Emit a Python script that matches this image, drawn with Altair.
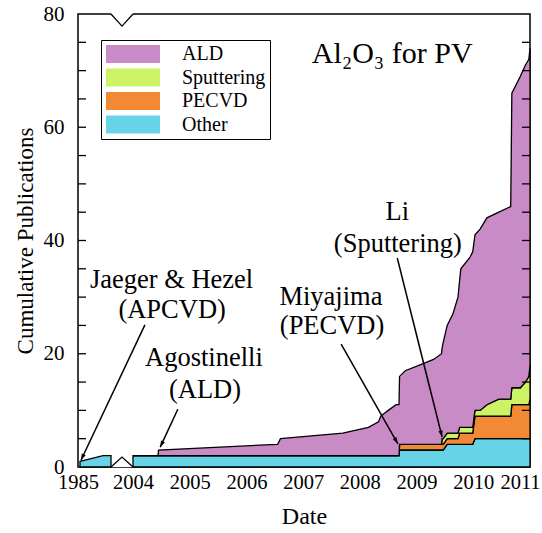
import math
import altair as alt
import pandas as pd

# Deposition methods, stacking rank (0 = bottom) and fill colours
METHODS = ["ALD", "Sputtering", "PECVD", "Other"]
COLORS = ["#C98BC6", "#CCF266", "#F28A35", "#66D3E6"]
STACK_RANK = {"Other": 0, "PECVD": 1, "Sputtering": 2, "ALD": 3}

# Early publications (before the axis break)
early_dates = [1985.06, 1985.76, 1986.0]
early_other = [1, 2, 2]

# Cumulative publication counts, 2004 onwards
dates = [2004.00, 2004.44, 2004.45, 2006.55, 2006.60, 2007.70, 2008.15, 2008.33,
         2008.37, 2008.50, 2008.64, 2008.69, 2008.70, 2008.80, 2009.05, 2009.30,
         2009.44, 2009.45, 2009.47, 2009.54, 2009.64, 2009.73, 2009.76, 2009.78,
         2009.94, 2009.99, 2010.03, 2010.12, 2010.24, 2010.45, 2010.66, 2010.68,
         2010.83, 2010.92, 2010.98, 2011.00]
other = [2, 2, 2, 2, 2, 2, 2, 2,
         2, 2, 2, 2, 3, 3, 3, 3,
         3, 3, 3, 4, 4, 4, 4, 4,
         4, 4, 5, 5, 5, 5, 5, 5,
         5, 5, 5, 5]
pecvd = [0, 0, 0, 0, 0, 0, 0, 0,
         0, 0, 0, 0, 1, 1, 1, 1,
         1, 1, 1, 1, 1, 1, 2, 2,
         2, 2, 4, 4, 4, 4, 4, 6,
         6, 6, 6, 7]
sputtering = [0, 0, 0, 0, 0, 0, 0, 0,
              0, 0, 0, 0, 0, 0, 0, 0,
              0, 1, 1, 1, 1, 1, 1, 1,
              1, 1, 1, 1, 2, 3, 3, 3,
              3, 4, 5, 6]
ald = [0, 0, 1, 2, 3, 4, 5, 6,
       7, 8, 9, 9, 12, 13, 14, 15,
       16, 16, 17, 19, 21, 24, 26, 28,
       30, 31, 31, 32, 33, 33, 34, 52,
       55, 56, 56, 56]

x_ticks = [1985, 2004, 2005, 2006, 2007, 2008, 2009, 2010, 2011]
y_labels = [0, 20, 40, 60, 80]
y_minor = list(range(5, 80, 5))

# Annotation text lines
note_text = ["Jaeger & Hezel", "(APCVD)", "Agostinelli", "(ALD)",
             "Miyajima", "(PECVD)", "Li", "(Sputtering)"]
note_x = [2004.68, 2004.69, 2005.25, 2005.27, 2007.49, 2007.51, 2008.66, 2008.67]
note_y = [33.0, 27.7, 19.3, 13.6, 30.0, 24.9, 45.0, 39.4]

# Arrows from each annotation to the first paper of that kind
arrow_x = [2004.21, 2004.79, 2007.67, 2008.66]
arrow_y = [25.1, 10.2, 21.7, 36.9]
arrow_x2 = [1985.09, 2004.48, 2008.67, 2009.45]
arrow_y2 = [1.2, 3.5, 4.1, 5.3]

# Broken time axis: 1985-1986 squeezed at the left, 2004-2011 on the rest
W, H = 452, 453
X_DOMAIN = [1985, 1986, 2004, 2011]
X_RANGE = [0, 33, 55, W]
Y_MAX = 80
BREAK_AT = 1995
FONT = "Liberation Serif"


def px_x(year):
    for (d0, d1), (r0, r1) in zip(zip(X_DOMAIN, X_DOMAIN[1:]), zip(X_RANGE, X_RANGE[1:])):
        if year <= d1:
            return r0 + (year - d0) / (d1 - d0) * (r1 - r0)
    return X_RANGE[-1]


def px_y(v):
    return H - v / Y_MAX * H


x_scale = alt.Scale(domain=X_DOMAIN, range=X_RANGE, nice=False, zero=False)
y_scale = alt.Scale(domain=[0, Y_MAX], nice=False, zero=False)

x_axis = alt.Axis(values=x_ticks, format="d", ticks=False, domain=False, grid=False,
                  labelOverlap=False, labelFlush=False,
                  labelFont=FONT, labelFontSize=20.5, labelColor="black", labelPadding=5,
                  labelOffset={"condition": {"test": "datum.value == 2011", "value": -10}, "value": 0},
                  title="Date", titleFont=FONT, titleFontSize=24, titleFontWeight="normal",
                  titleColor="black", titlePadding=12)
y_axis = alt.Axis(values=y_labels, ticks=False, domain=False, grid=False,
                  labelOverlap=False, labelFlush=False,
                  labelFont=FONT, labelFontSize=21, labelColor="black", labelPadding=14,
                  title="Cumulative Publications", titleFont=FONT, titleFontSize=23,
                  titleFontWeight="normal", titleColor="black", titlePadding=6)

X = alt.X("date:Q", scale=x_scale, axis=x_axis)
Y = alt.Y("value:Q", scale=y_scale, axis=y_axis)

# Long-form tables for the stacked areas
series = {"Other": other, "PECVD": pecvd, "Sputtering": sputtering, "ALD": ald}
main_rows = []
for m, vals in series.items():
    for d, v in zip(dates, vals):
        main_rows.append({"date": d, "value": v, "method": m, "rank": STACK_RANK[m]})
main_df = pd.DataFrame(main_rows)
early_df = pd.DataFrame({"date": early_dates, "value": early_other,
                         "method": "Other", "rank": STACK_RANK["Other"]})

# Legend swatches: 54 x 18 px rectangles (9 px per path unit)
legend = alt.Legend(orient="none", legendX=23, legendY=26, title=None,
                    symbolType="M-3,-1L3,-1L3,1L-3,1Z", symbolSize=324,
                    symbolOffset=18, symbolStrokeWidth=0, symbolOpacity=1,
                    labelFont=FONT, labelFontSize=20, labelColor="black", labelOffset=39,
                    labelBaseline="middle", rowPadding=3.5, padding=4,
                    strokeColor="black", fillColor="white", labelLimit=0)
color = alt.Color("method:N", scale=alt.Scale(domain=METHODS, range=COLORS), legend=legend)


def area_layer(df):
    return alt.Chart(df).mark_area(interpolate="linear", stroke="black", strokeWidth=1.3,
                                   opacity=1).encode(
        x=X,
        y=alt.Y("value:Q", scale=y_scale, axis=y_axis, stack="zero"),
        color=color,
        order=alt.Order("rank:Q"),
    )


areas_early = area_layer(early_df)
areas_main = area_layer(main_df)

# Inward tick marks on both vertical edges
tick_df = pd.DataFrame({"value": y_minor})
left_ticks = alt.Chart(tick_df).mark_rule(color="black", strokeWidth=1.3).encode(
    x=alt.value(0), x2=alt.value(8), y=Y)
right_ticks = alt.Chart(tick_df).mark_rule(color="black", strokeWidth=1.3).encode(
    x=alt.value(W - 8), x2=alt.value(W), y=Y)

# Axis-break symbols
brk_bottom = pd.DataFrame({"date": [BREAK_AT], "value": [0]})
brk_top = pd.DataFrame({"date": [BREAK_AT], "value": [Y_MAX]})
break_low = alt.Chart(brk_bottom).mark_point(
    shape="M-1,0L0,-0.9L1,0", size=484, filled=True, fill="white", stroke="black",
    strokeWidth=1.3, opacity=1).encode(x=X, y=Y)
break_high_fill = alt.Chart(brk_top).mark_point(
    shape="M-1,-0.15L-1,0L0,1.1L1,0L1,-0.15Z", size=484, filled=True, fill="white",
    strokeWidth=0, opacity=1).encode(x=X, y=Y)
break_high = alt.Chart(brk_top).mark_point(
    shape="M-1,0L0,1.1L1,0", size=484, filled=False, stroke="black",
    strokeWidth=1.3, opacity=1).encode(x=X, y=Y)

# Arrows
angles = []
for x1, y1, x2, y2 in zip(arrow_x, arrow_y, arrow_x2, arrow_y2):
    dx = px_x(x2) - px_x(x1)
    dy = px_y(y2) - px_y(y1)
    angles.append(math.degrees(math.atan2(dx, -dy)) % 360)
arrow_df = pd.DataFrame({"date": arrow_x, "value": arrow_y, "date2": arrow_x2,
                         "value2": arrow_y2, "angle": angles})
arrow_lines = alt.Chart(arrow_df).mark_rule(color="black", strokeWidth=1.5).encode(
    x=X, y=Y, x2="date2:Q", y2="value2:Q")
arrow_heads = alt.Chart(arrow_df).mark_point(
    shape="M0,0L0.33,1L-0.33,1Z", size=169, filled=True, color="black", opacity=1).encode(
    x=alt.X("date2:Q", scale=x_scale, axis=x_axis),
    y=alt.Y("value2:Q", scale=y_scale, axis=y_axis),
    angle=alt.Angle("angle:Q", scale=None))

notes_df = pd.DataFrame({"date": note_x, "value": note_y, "label": note_text})
notes = alt.Chart(notes_df).mark_text(font=FONT, fontSize=26.5, color="black",
                                      align="center", baseline="middle").encode(
    x=X, y=Y, text="label:N")

title_df = pd.DataFrame({"date": [2008.57], "value": [72.9], "label": ["Al₂O₃ for PV"]})
title = alt.Chart(title_df).mark_text(font=FONT, fontSize=30, color="black",
                                      align="center", baseline="middle").encode(
    x=X, y=Y, text="label:N")

chart = alt.layer(
    areas_early, areas_main, left_ticks, right_ticks,
    break_low, break_high_fill, break_high,
    arrow_lines, arrow_heads, notes, title,
).properties(
    width=W, height=H, autosize="none",
    padding={"left": 78, "top": 14, "right": 12, "bottom": 66},
    background="white",
).configure_view(stroke="black", strokeWidth=1.5)

chart.save("out.html", embed_options={"renderer": "svg", "actions": False})
